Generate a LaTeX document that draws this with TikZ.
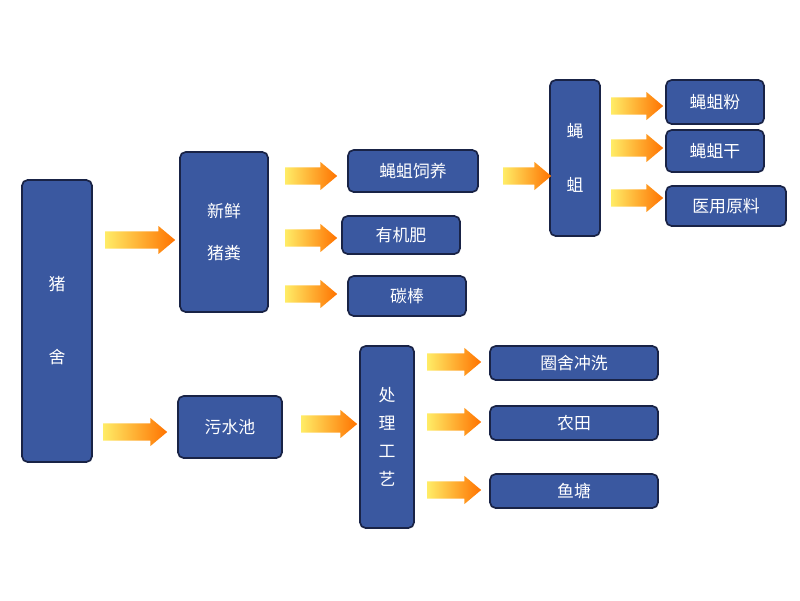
\documentclass[tikz,border=0pt]{standalone}
\usepackage{fontspec}
\setmainfont{Noto Sans CJK SC}
\usetikzlibrary{shapes.arrows}
\definecolor{boxblue}{RGB}{58,88,160}
\definecolor{boxline}{RGB}{25,35,70}
\tikzset{
  box/.style={draw=boxline, line width=1.2pt, fill=boxblue, rounded corners=4pt,
    text=white, font=\large, align=center, inner sep=0pt},
  flow/.style={single arrow, minimum height=#1, minimum width=20pt,
    single arrow head extend=2pt, single arrow tip angle=80, inner sep=3pt,
    left color=orange!25!yellow!60, right color=orange!90!red, draw=none, shape border rotate=0}
}
\begin{document}
\begin{tikzpicture}[x=0.025cm, y=-0.025cm]
\useasboundingbox (0,0) rectangle (800,600);
%%% boxes
\node[box, minimum width=70*0.025cm, minimum height=282*0.025cm] (pen) at (57,321) {猪\\[38pt]舍};
\node[box, minimum width=88*0.025cm, minimum height=160*0.025cm] (dung) at (224,232) {新鲜\\[16pt]猪粪};
\node[box, minimum width=104*0.025cm, minimum height=62*0.025cm] (pool) at (230,427) {污水池};
\node[box, minimum width=130*0.025cm, minimum height=42*0.025cm] (feed) at (413,171) {蝇蛆饲养};
\node[box, minimum width=118*0.025cm, minimum height=38*0.025cm] (fert) at (401,235) {有机肥};
\node[box, minimum width=118*0.025cm, minimum height=40*0.025cm] (rod) at (407,296) {碳棒};
\node[box, minimum width=50*0.025cm, minimum height=156*0.025cm] (larva) at (575,158) {蝇\\[24pt]蛆};
\node[box, minimum width=98*0.025cm, minimum height=44*0.025cm] (powder) at (715,102) {蝇蛆粉};
\node[box, minimum width=98*0.025cm, minimum height=42*0.025cm] (dry) at (715,151) {蝇蛆干};
\node[box, minimum width=120*0.025cm, minimum height=40*0.025cm] (med) at (726,206) {医用原料};
\node[box, minimum width=54*0.025cm, minimum height=182*0.025cm] (treat) at (387,437) {处\\[6pt]理\\[6pt]工\\[6pt]艺};
\node[box, minimum width=168*0.025cm, minimum height=34*0.025cm] (wash) at (574,363) {圈舍冲洗};
\node[box, minimum width=168*0.025cm, minimum height=34*0.025cm] (field) at (574,423) {农田};
\node[box, minimum width=168*0.025cm, minimum height=34*0.025cm] (pond) at (574,491) {鱼塘};
%%% arrows
\node[flow=70*0.025cm] (a1) at (135,240) {};
\node[flow=64*0.025cm] (a2) at (130,432) {};
\foreach \n/\y in {b1/176, b2/238, b3/294}
  \node[flow=52*0.025cm] (\n) at (306,\y) {};
\node[flow=56*0.025cm] (c1) at (324,424) {};
\node[flow=48*0.025cm] (d1) at (522,176) {};
\foreach \n/\y in {e1/106, e2/148, e3/198}
  \node[flow=52*0.025cm] (\n) at (632,\y) {};
\foreach \n/\y in {f1/362, f2/422, f3/490}
  \node[flow=54*0.025cm] (\n) at (449,\y) {};
\end{tikzpicture}
\end{document}
